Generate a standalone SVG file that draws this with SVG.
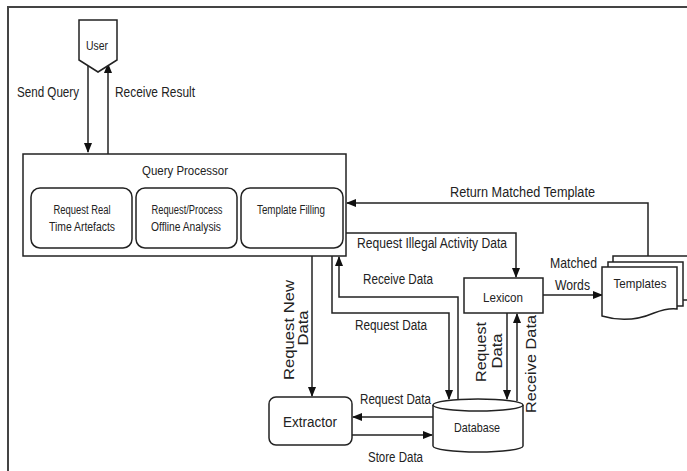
<svg xmlns="http://www.w3.org/2000/svg" width="687" height="471" viewBox="0 0 687 471">
<defs>
<marker id="ah" markerUnits="userSpaceOnUse" markerWidth="10" markerHeight="8" refX="9" refY="4" orient="auto">
<path d="M0,0 L10,4 L0,8 z" fill="#111"/>
</marker>
<style>
.box{fill:#fff;stroke:#222;stroke-width:1.5}
.ln{fill:none;stroke:#222;stroke-width:1.5}
.ar{fill:none;stroke:#222;stroke-width:1.5;marker-end:url(#ah)}
text{font-family:"Liberation Sans",Arial,sans-serif;fill:#222}
.lb{font-size:14px}
.sm{font-size:12px;text-anchor:middle}
.md{font-size:13px;text-anchor:middle}
.rot{font-size:15px;text-anchor:middle}
</style>
</defs>
<rect x="0" y="0" width="687" height="471" fill="#fff"/>
<rect x="8" y="7" width="700" height="480" fill="none" stroke="#444" stroke-width="2"/>

<g id="connectors">
<path class="ar" d="M88,62 V152"/>
<path class="ar" d="M108,154 V64"/>
<path class="ar" d="M648,256 V203 H347"/>
<path class="ar" d="M346,233 H516 V277"/>
<path class="ar" d="M543,295 H602"/>
<path class="ar" d="M312,256 V396"/>
<path class="ar" d="M332,256 V313 H449 V399"/>
<path class="ar" d="M458,400 V297 H339 V257"/>
<path class="ar" d="M507,313 V399"/>
<path class="ar" d="M517,401 V314"/>
<path class="ar" d="M433,417 H353"/>
<path class="ar" d="M352,435 H432"/>
</g>

<g id="labels">
<text class="lb" x="17" y="97" textLength="62" lengthAdjust="spacingAndGlyphs">Send Query</text>
<text class="lb" x="115" y="97" textLength="80" lengthAdjust="spacingAndGlyphs">Receive Result</text>
<text class="lb" x="450" y="197" textLength="145" lengthAdjust="spacingAndGlyphs">Return Matched Template</text>
<text class="lb" x="357" y="248" textLength="150" lengthAdjust="spacingAndGlyphs">Request Illegal Activity Data</text>
<text class="lb" x="550" y="268" textLength="47" lengthAdjust="spacingAndGlyphs" style="font-size:15px">Matched</text>
<text class="lb" x="555" y="290" textLength="35" lengthAdjust="spacingAndGlyphs" style="font-size:15px">Words</text>
<text class="lb" x="363" y="284" textLength="70" lengthAdjust="spacingAndGlyphs">Receive Data</text>
<text class="lb" x="355" y="330" textLength="72" lengthAdjust="spacingAndGlyphs">Request Data</text>
<text class="lb" x="360" y="404" textLength="71" lengthAdjust="spacingAndGlyphs">Request Data</text>
<text class="lb" x="368" y="462" textLength="55" lengthAdjust="spacingAndGlyphs">Store Data</text>
<text class="rot" transform="translate(294,330) rotate(-90)" textLength="100" lengthAdjust="spacingAndGlyphs">Request New</text>
<text class="rot" transform="translate(308,328) rotate(-90)" textLength="35" lengthAdjust="spacingAndGlyphs">Data</text>
<text class="rot" transform="translate(486,352) rotate(-90)" textLength="60" lengthAdjust="spacingAndGlyphs">Request</text>
<text class="rot" transform="translate(502,351) rotate(-90)" textLength="35" lengthAdjust="spacingAndGlyphs">Data</text>
<text class="rot" transform="translate(536,364) rotate(-90)" textLength="98" lengthAdjust="spacingAndGlyphs">Receive Data</text>
</g>

<g id="user">
<polygon class="box" points="79,20 117,20 117,60 98,72 79,60"/>
<text class="md" x="97" y="50" textLength="22" lengthAdjust="spacingAndGlyphs" style="font-size:12.5px">User</text>
</g>

<g id="query-processor">
<rect class="box" x="23" y="154" width="323" height="102"/>
<text class="md" x="185" y="175" textLength="86" lengthAdjust="spacingAndGlyphs">Query Processor</text>
</g>
<g id="request-real-time">
<rect class="box" x="31" y="188" width="101" height="60" rx="9"/>
<text class="sm" x="82" y="214" textLength="57" lengthAdjust="spacingAndGlyphs">Request Real</text>
<text class="sm" x="82" y="231" textLength="66" lengthAdjust="spacingAndGlyphs">Time Artefacts</text>
</g>
<g id="request-offline">
<rect class="box" x="136" y="188" width="101" height="60" rx="9"/>
<text class="sm" x="187" y="214" textLength="71" lengthAdjust="spacingAndGlyphs">Request/Process</text>
<text class="sm" x="186" y="231" textLength="70" lengthAdjust="spacingAndGlyphs">Offline Analysis</text>
</g>
<g id="template-filling">
<rect class="box" x="241" y="188" width="102" height="60" rx="9"/>
<text class="sm" x="291" y="214" textLength="68" lengthAdjust="spacingAndGlyphs">Template Filling</text>
</g>

<g id="lexicon">
<rect class="box" x="464" y="278" width="79" height="35"/>
<text class="md" x="503" y="302" textLength="40" lengthAdjust="spacingAndGlyphs">Lexicon</text>
</g>

<g id="templates">
<path class="box" d="M613,262 V256 H690 V300 H683"/>
<path class="box" d="M608,267 V262 H683 V306 H677"/>
<path class="box" d="M602,267 H677 V309 C670,308 662,310 654,313 C640,319 622,322 602,316 Z"/>
<text class="md" x="640" y="288" textLength="53" lengthAdjust="spacingAndGlyphs" style="font-size:13.5px">Templates</text>
</g>

<g id="extractor">
<rect class="box" x="269" y="397" width="83" height="48" rx="7"/>
<text class="md" x="310" y="427" textLength="54" lengthAdjust="spacingAndGlyphs" style="font-size:15.5px">Extractor</text>
</g>

<g id="database">
<path class="box" d="M433,405 V446 A45,6 0 0 0 523,446 V405"/>
<ellipse class="box" cx="478" cy="405" rx="45" ry="6"/>
<text class="md" x="477" y="432" textLength="46" lengthAdjust="spacingAndGlyphs">Database</text>
</g>
</svg>
